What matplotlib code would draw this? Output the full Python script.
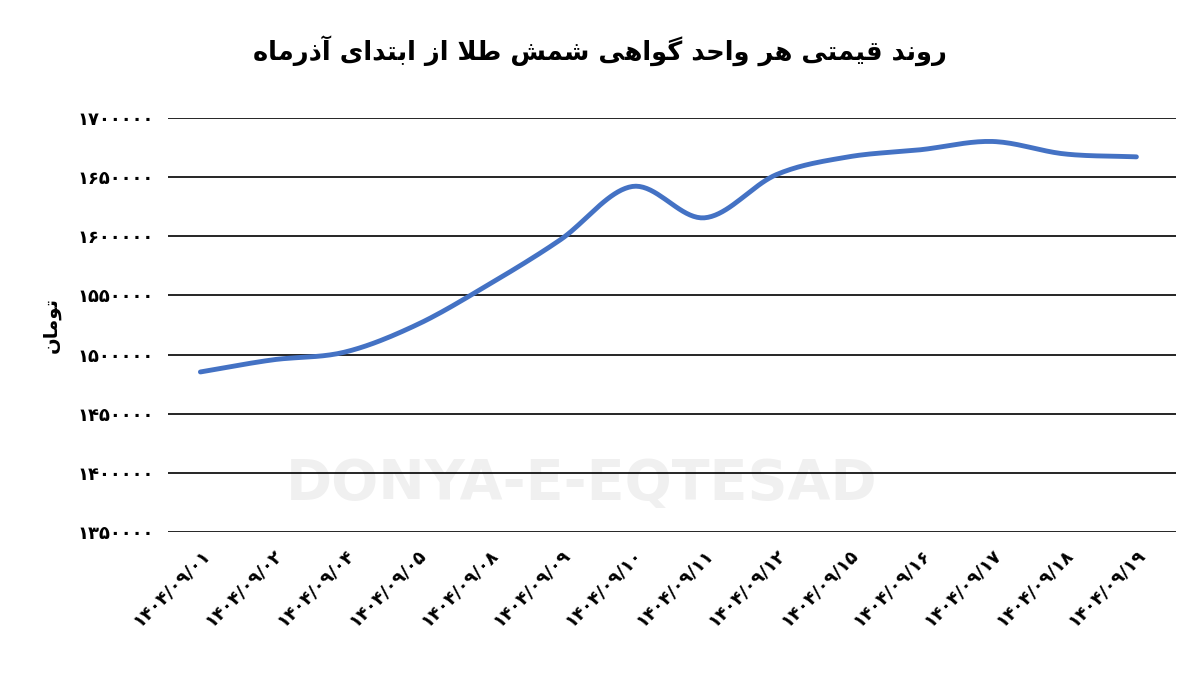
import matplotlib
matplotlib.use("Agg")
import matplotlib.pyplot as plt
import numpy as np

# --- data ---
dates = ["1404/09/01", "1404/09/02", "1404/09/04", "1404/09/05", "1404/09/08",
         "1404/09/09", "1404/09/10", "1404/09/11", "1404/09/12", "1404/09/15",
         "1404/09/16", "1404/09/17", "1404/09/18", "1404/09/19"]
prices = [1485300, 1495500, 1502000, 1525000, 1559000, 1597000, 1642000,
          1615500, 1652000, 1667000, 1673000, 1680000, 1669500, 1667000]
yticks = [1350000, 1400000, 1450000, 1500000, 1550000, 1600000, 1650000, 1700000]

TITLE = "روند قیمتی هر واحد گواهی شمش طلا از ابتدای آذرماه"
YLABEL = "تومان"

# minimal Persian shaping (matplotlib has no bidi / joining)
FORMS = {
    "ا": ("\uFE8D", "\uFE8E", None, None), "آ": ("\uFE81", "\uFE82", None, None),
    "ب": ("\uFE8F", "\uFE90", "\uFE91", "\uFE92"), "ت": ("\uFE95", "\uFE96", "\uFE97", "\uFE98"),
    "ح": ("\uFEA1", "\uFEA2", "\uFEA3", "\uFEA4"), "د": ("\uFEA9", "\uFEAA", None, None),
    "ذ": ("\uFEAB", "\uFEAC", None, None), "ر": ("\uFEAD", "\uFEAE", None, None),
    "ز": ("\uFEAF", "\uFEB0", None, None), "ش": ("\uFEB5", "\uFEB6", "\uFEB7", "\uFEB8"),
    "ط": ("\uFEC1", "\uFEC2", "\uFEC3", "\uFEC4"), "ق": ("\uFED5", "\uFED6", "\uFED7", "\uFED8"),
    "ل": ("\uFEDD", "\uFEDE", "\uFEDF", "\uFEE0"), "م": ("\uFEE1", "\uFEE2", "\uFEE3", "\uFEE4"),
    "ن": ("\uFEE5", "\uFEE6", "\uFEE7", "\uFEE8"), "ه": ("\uFEE9", "\uFEEA", "\uFEEB", "\uFEEC"),
    "و": ("\uFEED", "\uFEEE", None, None), "ی": ("\uFBFC", "\uFBFD", "\uFBFE", "\uFBFF"),
    "گ": ("\uFB92", "\uFB93", "\uFB94", "\uFB95"),
    "لا": ("\uFEFB", "\uFEFC", None, None),
}


def shape(text):
    chars = []
    i = 0
    while i < len(text):
        if text[i:i + 2] == "لا":
            chars.append("لا"); i += 2
        else:
            chars.append(text[i]); i += 1
    out = []
    for k, c in enumerate(chars):
        if c not in FORMS:
            out.append(c); continue
        prev = chars[k - 1] if k > 0 else None
        nxt = chars[k + 1] if k + 1 < len(chars) else None
        joins_prev = prev in FORMS and FORMS[prev][2] is not None
        joins_next = nxt in FORMS and FORMS[c][2] is not None
        iso, fin, ini, med = FORMS[c]
        if joins_prev and joins_next:
            out.append(med)
        elif joins_prev:
            out.append(fin)
        elif joins_next:
            out.append(ini)
        else:
            out.append(iso)
    return "".join(out)[::-1]


def fa_digits(s):
    return s.translate(str.maketrans("0123456789", "۰۱۲۳۴۵۶۷۸۹"))


def smooth(x, y, n=20):
    # Catmull-Rom spline through the points
    x = np.asarray(x, float); y = np.asarray(y, float)
    px = np.concatenate([[2 * x[0] - x[1]], x, [2 * x[-1] - x[-2]]])
    py = np.concatenate([[2 * y[0] - y[1]], y, [2 * y[-1] - y[-2]]])
    xs, ys = [], []
    t = np.linspace(0, 1, n, endpoint=False)
    for i in range(1, len(px) - 2):
        for arr, p in ((xs, px), (ys, py)):
            p0, p1, p2, p3 = p[i - 1:i + 3]
            arr.extend(0.5 * (2 * p1 + (-p0 + p2) * t + (2 * p0 - 5 * p1 + 4 * p2 - p3) * t ** 2
                              + (-p0 + 3 * p1 - 3 * p2 + p3) * t ** 3))
    xs.append(x[-1]); ys.append(y[-1])
    return np.array(xs), np.array(ys)


plt.rcParams["font.family"] = ["DejaVu Sans"]
fig = plt.figure(figsize=(12, 6.77), dpi=100)
ax = fig.add_axes([0.14, 0.214, 0.84, 0.612])

x = np.arange(len(dates))
sx, sy = smooth(x, prices)
ax.plot(sx, sy, color="#4472C4", lw=3.5, solid_capstyle="round", zorder=3)

ax.set_ylim(1350000, 1700000)
ax.set_xlim(-0.45, len(dates) - 0.45)
ax.set_yticks(yticks)
ax.set_yticklabels([fa_digits(str(v)) for v in yticks], fontsize=13, fontweight="bold")
ax.set_xticks(x)
ax.set_xticklabels([fa_digits(d) for d in dates], rotation=45, ha="right",
                   rotation_mode="anchor", fontsize=13, fontweight="bold")
ax.tick_params(length=0, pad=10)
ax.grid(axis="y", color="black", lw=1.2)
ax.set_axisbelow(True)
for s in ax.spines.values():
    s.set_visible(False)

ax.set_ylabel(shape(YLABEL), fontsize=14, fontweight="bold", labelpad=12)
fig.text(0.5, 0.925, shape(TITLE), ha="center", va="center", fontsize=18.5, fontweight="bold")
fig.text(0.485, 0.285, "DONYA-E-EQTESAD", ha="center", va="center", fontsize=40,
         fontweight="bold", color="#000000", alpha=0.06)

fig.savefig("out.png", dpi=100)
